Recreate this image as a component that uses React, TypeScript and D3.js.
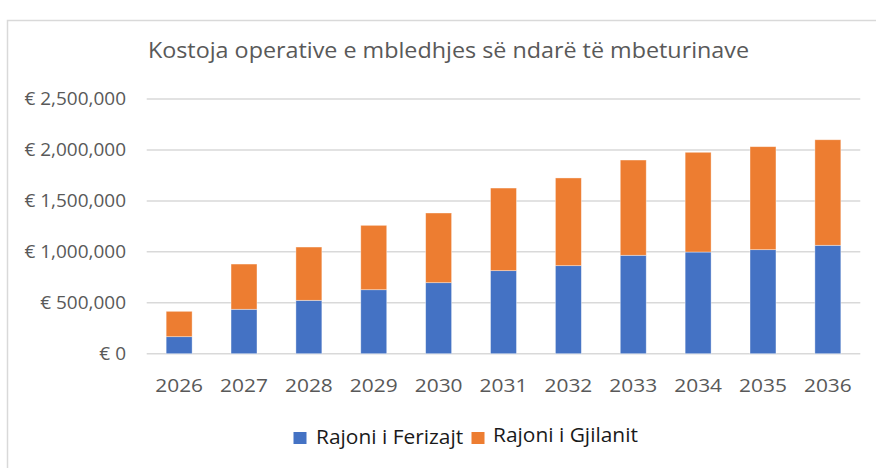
import React from 'react'
import { scaleBand, scaleLinear, format } from 'd3'

const years = ['2026', '2027', '2028', '2029', '2030', '2031', '2032', '2033', '2034', '2035', '2036']
const ferizaj = [167000, 436000, 524000, 628000, 697000, 815000, 864000, 966000, 998000, 1021000, 1064000]
const gjilan = [249000, 444000, 523000, 632000, 684000, 811000, 861000, 935000, 979000, 1011000, 1036000]
const yTicks = [0, 500000, 1000000, 1500000, 2000000, 2500000]
const seriesNames = ['Rajoni i Ferizajt', 'Rajoni i Gjilanit']
const seriesColors = ['#4472C4', '#ED7D31']

const W = 876
const H = 468
const font = '"Open Sans", "Noto Sans", sans-serif'

// text slightly stretched sideways, the reference font runs wider than Open Sans
const Txt = ({ x, y, sx = 1.085, anchor = 'start', size, fill = '#595959', dy = '0', children }: any) => (
    <g transform={`translate(${x},${y}) scale(${sx},1)`}>
        <text x={0} y={0} dy={dy} textAnchor={anchor} fontFamily={font} fontSize={size} fill={fill}>
            {children}
        </text>
    </g>
)

const App = () => {
    const x = scaleBand<string>()
        .domain(years)
        .range([146.7, 860.3])
        .paddingInner(0.6)
        .paddingOuter(0.3)
    const y = scaleLinear().domain([0, 2500000]).range([353.7, 99])
    const fmt = format(',')

    return (
        <svg width={W} height={H} style={{ position: 'absolute', left: 0, top: 0, background: '#fff' }}>
            <rect x={0} y={0} width={W} height={H} fill="#fff" />
            {/* chart border, runs off the right and bottom */}
            <rect x={7.5} y={20.5} width={W + 20} height={H + 20} fill="none" stroke="#d9d9d9" strokeWidth={1.5} />

            <Txt x={448.5} y={57.5} anchor="middle" size={21.5}>
                Kostoja operative e mbledhjes së ndarë të mbeturinave
            </Txt>

            {/* gridlines + y labels */}
            {yTicks.map(t => (
                <g key={t}>
                    <line x1={146.7} x2={860.3} y1={y(t)} y2={y(t)} stroke="#d9d9d9" strokeWidth={1.5} />
                    <Txt x={126} y={y(t)} dy="0.35em" anchor="end" size={17.5}>
                        {t === 0 ? '€ 0' : `€ ${fmt(t)}`}
                    </Txt>
                </g>
            ))}

            {/* stacked bars */}
            {years.map((yr, i) => {
                const bx = x(yr) as number
                const bw = x.bandwidth()
                const f = ferizaj[i]
                const g = gjilan[i]
                return (
                    <g key={yr}>
                        <rect x={bx} y={y(f)} width={bw} height={y(0) - y(f)} fill={seriesColors[0]} stroke="#fff" strokeOpacity={0.5} strokeWidth={0.75} />
                        <rect x={bx} y={y(f + g)} width={bw} height={y(f) - y(f + g)} fill={seriesColors[1]} stroke="#fff" strokeOpacity={0.5} strokeWidth={0.75} />
                    </g>
                )
            })}

            {/* x labels */}
            {years.map(yr => (
                <Txt key={yr} x={(x(yr) as number) + x.bandwidth() / 2} y={392.3} anchor="middle" size={19} sx={1.1}>
                    {yr}
                </Txt>
            ))}

            {/* legend */}
            <rect x={293.5} y={432} width={13} height={12} fill={seriesColors[0]} />
            <Txt x={316} y={444.3} size={19.5} sx={1.073} fill="#1a1a1a">{seriesNames[0]}</Txt>
            <rect x={471.5} y={432} width={13} height={12} fill={seriesColors[1]} />
            <Txt x={493} y={442} size={19.5} sx={1.073} fill="#1a1a1a">{seriesNames[1]}</Txt>
        </svg>
    )
}

export default App
